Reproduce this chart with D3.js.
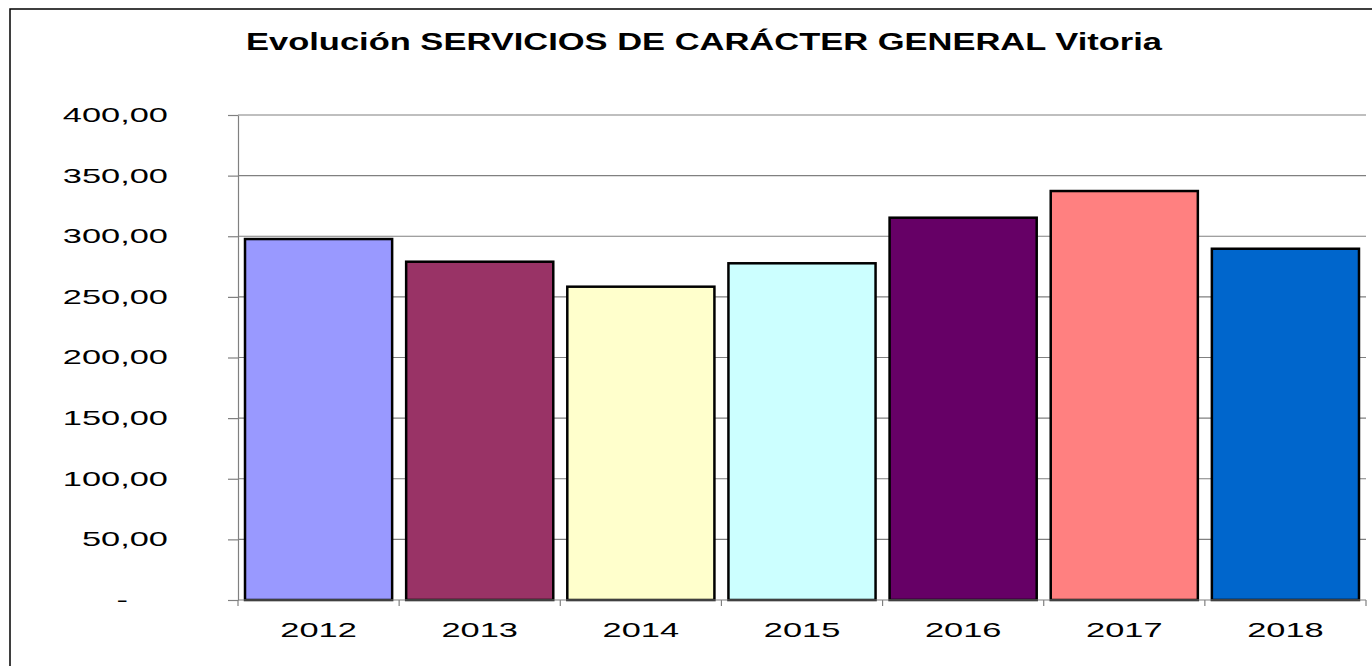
<!DOCTYPE html>
<html>
<head>
<meta charset="utf-8">
<script src="https://cdn.jsdelivr.net/npm/d3@7"></script>
<style>
  html, body { margin: 0; padding: 0; background: #fff; }
  svg { display: block; }
  text { font-family: "Liberation Sans", Arial, sans-serif; fill: #000; }
</style>
</head>
<body>
<svg id="chart" width="1372" height="666"></svg>
<script>
const title = "Evolución SERVICIOS DE CARÁCTER GENERAL Vitoria";
const years = ["2012", "2013", "2014", "2015", "2016", "2017", "2018"];
const values = [297.7, 279.0, 258.4, 277.7, 315.3, 337.3, 289.7];
const barColors = ["#9999FF", "#993366", "#FFFFCC", "#CCFFFF", "#660066", "#FF8080", "#0066CC"];
const yTickValues = [0, 50, 100, 150, 200, 250, 300, 350, 400];
const yTickLabels = ["-", "50,00", "100,00", "150,00", "200,00", "250,00", "300,00", "350,00", "400,00"];

const W = 1372, H = 666;
const plot = { left: 238, right: 1366, top: 115, bottom: 600 };
const stretch = 1.72;

const svg = d3.select("#chart");

// outer chart border (left and top visible)
svg.append("path")
  .attr("d", `M10,${H} L10,9 L${W},9`)
  .attr("fill", "none").attr("stroke", "#000").attr("stroke-width", 1.5);

// title
svg.append("text")
  .attr("x", 704).attr("y", 50)
  .attr("text-anchor", "middle")
  .attr("font-size", 23).attr("font-weight", "bold")
  .attr("textLength", 916).attr("lengthAdjust", "spacingAndGlyphs")
  .text(title);

const x = d3.scaleBand().domain(years).range([plot.left, plot.right])
  .paddingInner(0.087).paddingOuter(0.0435);
const y = d3.scaleLinear().domain([0, 400]).range([plot.bottom, plot.top]);

// gridlines
svg.append("g").selectAll("line")
  .data(yTickValues.filter(v => v > 0))
  .join("line")
  .attr("x1", plot.left).attr("x2", plot.right)
  .attr("y1", d => y(d)).attr("y2", d => y(d))
  .attr("stroke", "#808080").attr("stroke-width", 1.2);

// bars
svg.append("g").selectAll("rect")
  .data(years.map((yr, i) => ({ yr, v: values[i], c: barColors[i] })))
  .join("rect")
  .attr("x", d => x(d.yr))
  .attr("width", x.bandwidth())
  .attr("y", d => y(d.v))
  .attr("height", d => y(0) - y(d.v))
  .attr("fill", d => d.c)
  .attr("stroke", "#000").attr("stroke-width", 2.5);

// y axis
const yAxis = svg.append("g")
  .attr("transform", `translate(${plot.left},0)`)
  .call(d3.axisLeft(y).tickValues(yTickValues).tickSize(10).tickSizeOuter(0)
    .tickFormat((d, i) => yTickLabels[i]));
yAxis.select(".domain").attr("stroke", "#808080").attr("stroke-width", 1.2);
yAxis.selectAll(".tick line").attr("stroke", "#808080").attr("stroke-width", 1.2);
yAxis.selectAll(".tick text")
  .attr("x", 0)
  .attr("font-size", 20)
  .attr("text-anchor", "end")
  .attr("transform", d => `translate(${d === 0 ? -110 : -70},0) scale(${stretch},1)`);

// x axis
const xAxis = svg.append("g")
  .attr("transform", `translate(0,${plot.bottom})`)
  .call(d3.axisBottom(x).tickSize(0).tickSizeOuter(0));
xAxis.select(".domain").attr("stroke", "#808080").attr("stroke-width", 1.2)
  .attr("d", `M${plot.left},0H${plot.right}`);
xAxis.selectAll(".tick text")
  .attr("y", 0).attr("dy", 0)
  .attr("font-size", 20)
  .attr("transform", `translate(0,37) scale(${stretch},1)`);

// category boundary ticks
const bounds = d3.range(years.length + 1).map(i => plot.left + i * x.step());
xAxis.append("g").selectAll("line")
  .data(bounds)
  .join("line")
  .attr("x1", d => d).attr("x2", d => d)
  .attr("y1", 0).attr("y2", 6)
  .attr("stroke", "#808080").attr("stroke-width", 1.2);
</script>
</body>
</html>
